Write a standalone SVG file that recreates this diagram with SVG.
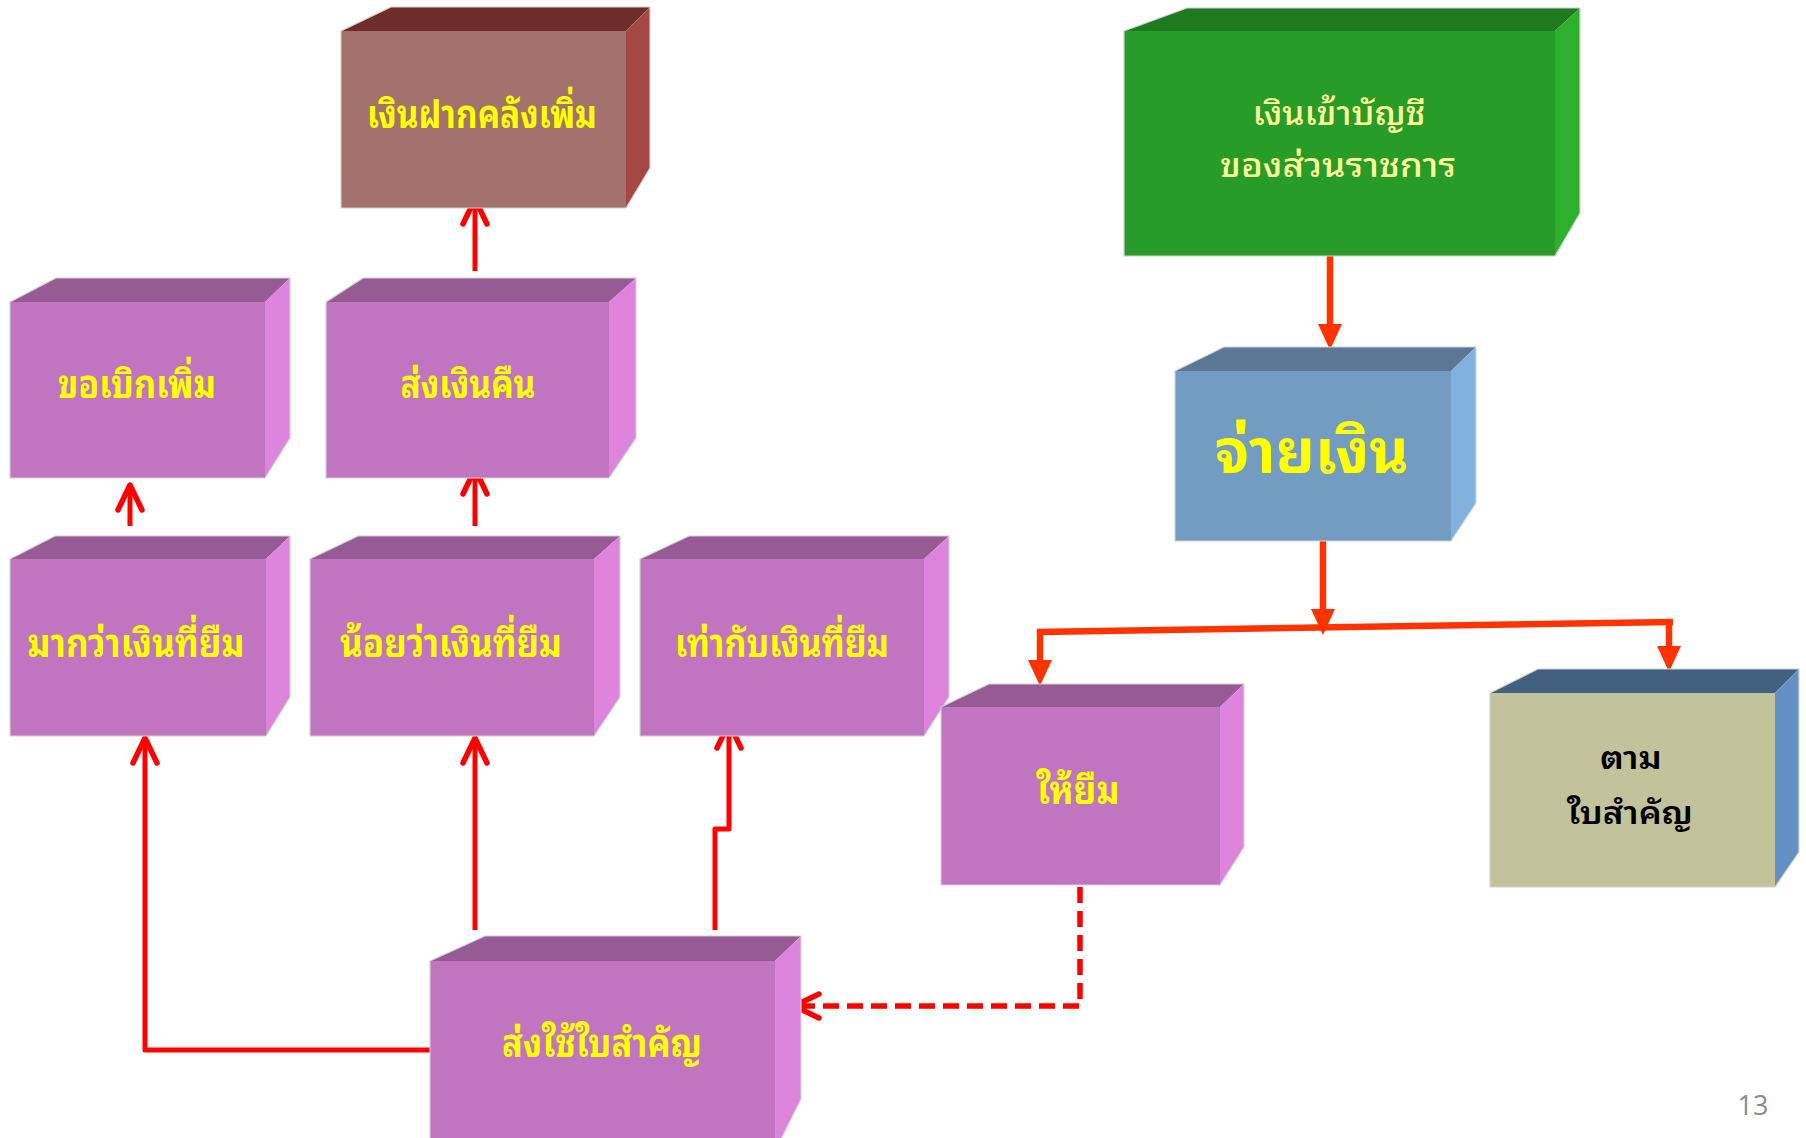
<svg xmlns="http://www.w3.org/2000/svg" width="1806" height="1138" viewBox="0 0 1806 1138">
  <style>
    .th { font-family: "Noto Sans Thai Looped", "Noto Serif Thai", "Garuda", "Loma", "Noto Sans Thai", "Noto Sans Thai UI", "Noto Sans", "DejaVu Sans", sans-serif; text-anchor: middle; font-weight: 700; }
    .yl { fill: #FFFF00; }
    .pale { fill: #FFFF99; font-weight: 500; }
    .dark { fill: #000000; font-weight: 600; }
    .edge { fill: none; stroke: #d2d2d2; stroke-width: 1.2; stroke-linejoin: round; }
    .purple .front { fill: #C175C0; }
    .purple .top { fill: #965A95; }
    .purple .side { fill: #DD84DD; }
    .brown .front { fill: #A4726D; }
    .brown .top { fill: #6E2C2B; }
    .brown .side { fill: #A44845; }
    .green .front { fill: #289C28; }
    .green .top { fill: #1F7A1F; }
    .green .side { fill: #2DB12D; }
    .blue .front { fill: #729CC2; }
    .blue .top { fill: #5A7896; }
    .blue .side { fill: #82B1DE; }
    .khaki .front { fill: #C2C29B; }
    .khaki .top { fill: #42607F; }
    .khaki .side { fill: #6390C4; }
    .red { fill: none; stroke: #FF0000; stroke-width: 5; stroke-linejoin: round; marker-end: url(#openHead); }
    .dash { stroke-dasharray: 16 8; stroke-width: 5.5; }
    .orange { fill: none; stroke: #FF3300; stroke-width: 6.5; stroke-linejoin: miter; }
    .pg { font-family: "Open Sans", "Liberation Sans", sans-serif; font-size: 27px; fill: #8C8C8C; text-anchor: middle; }
  </style>
  <defs>
    <!-- open chevron head, tip at the path end -->
    <marker id="openHead" markerUnits="userSpaceOnUse" viewBox="-30 -16 34 32" refX="0" refY="0" markerWidth="34" markerHeight="32" orient="auto" overflow="visible">
      <path d="M-25,-12 L0,0 L-25,12" fill="none" stroke="#FF0000" stroke-width="5.5" stroke-linecap="round" stroke-linejoin="round" stroke-dasharray="none"/>
    </marker>
    <!-- filled triangle head, base at the path end -->
    <marker id="solidHead" markerUnits="userSpaceOnUse" viewBox="-2 -13 28 26" refX="0" refY="0" markerWidth="28" markerHeight="26" orient="auto" overflow="visible">
      <path d="M-1,-12 L25,0 L-1,12 Z" fill="#FF3300"/>
    </marker>
  </defs>

  <!-- connectors -->
  <g id="connectors">
    <path class="red" d="M130,526 V485"/>
    <path class="red" d="M475,526 V469"/>
    <path class="red" d="M475,271 V199"/>
    <path class="red" d="M430,1050 H145 V738"/>
    <path class="red" d="M475,930 V738"/>
    <path class="red" d="M715,930 V829 H729 V723"/>
    <path class="red dash" d="M1080,887 V1006 H794"/>
    <path class="orange" d="M1330,256 V325" marker-end="url(#solidHead)"/>
    <path class="orange" d="M1323,541 V610" marker-end="url(#solidHead)"/>
    <path class="orange" d="M1673,622 L1040,632 V661" marker-end="url(#solidHead)"/>
    <path class="orange" d="M1669,622 V647" marker-end="url(#solidHead)"/>
  </g>

  <!-- เงินฝากคลังเพิ่ม -->
  <g id="deposit" class="brown">
    <rect class="front" x="341" y="31" width="285" height="177"/>
    <polygon class="top" points="341,31 391,7 650,7 626,31"/>
    <polygon class="side" points="626,31 650,7 650,168 626,208"/>
    <polygon class="edge" points="341,31 391,7 650,7 650,168 626,208 341,208"/>
    <text class="th yl" x="482" y="128" font-size="38" textLength="230" lengthAdjust="spacingAndGlyphs">เงินฝากคลังเพิ่ม</text>
  </g>

  <!-- เงินเข้าบัญชีของส่วนราชการ -->
  <g id="account" class="green">
    <rect class="front" x="1124" y="31" width="431" height="225"/>
    <polygon class="top" points="1124,31 1187,8 1580,8 1555,31"/>
    <polygon class="side" points="1555,31 1580,8 1580,213 1555,256"/>
    <polygon class="edge" points="1124,31 1187,8 1580,8 1580,213 1555,256 1124,256"/>
    <text class="th pale" x="1339" y="125" font-size="34" textLength="173" lengthAdjust="spacingAndGlyphs">เงินเข้าบัญชี</text>
    <text class="th pale" x="1338" y="177" font-size="34" textLength="236" lengthAdjust="spacingAndGlyphs">ของส่วนราชการ</text>
  </g>

  <!-- ขอเบิกเพิ่ม -->
  <g id="request-more" class="purple">
    <rect class="front" x="10" y="302" width="255" height="176"/>
    <polygon class="top" points="10,302 56,278 290,278 265,302"/>
    <polygon class="side" points="265,302 290,278 290,438 265,478"/>
    <polygon class="edge" points="10,302 56,278 290,278 290,438 265,478 10,478"/>
    <text class="th yl" x="137" y="398" font-size="38" textLength="158" lengthAdjust="spacingAndGlyphs">ขอเบิกเพิ่ม</text>
  </g>

  <!-- ส่งเงินคืน -->
  <g id="return-cash" class="purple">
    <rect class="front" x="326" y="302" width="283" height="176"/>
    <polygon class="top" points="326,302 363,278 636,278 609,302"/>
    <polygon class="side" points="609,302 636,278 636,438 609,478"/>
    <polygon class="edge" points="326,302 363,278 636,278 636,438 609,478 326,478"/>
    <text class="th yl" x="468" y="398" font-size="38" textLength="135" lengthAdjust="spacingAndGlyphs">ส่งเงินคืน</text>
  </g>

  <!-- จ่ายเงิน -->
  <g id="pay" class="blue">
    <rect class="front" x="1175" y="371" width="276" height="170"/>
    <polygon class="top" points="1175,371 1224,347 1476,347 1451,371"/>
    <polygon class="side" points="1451,371 1476,347 1476,503 1451,541"/>
    <polygon class="edge" points="1175,371 1224,347 1476,347 1476,503 1451,541 1175,541"/>
    <text class="th yl" x="1312" y="473" font-size="60" textLength="194" lengthAdjust="spacingAndGlyphs">จ่ายเงิน</text>
  </g>

  <!-- มากว่าเงินที่ยืม -->
  <g id="more-than" class="purple">
    <rect class="front" x="10" y="559" width="256" height="177"/>
    <polygon class="top" points="10,559 55,536 290,536 266,559"/>
    <polygon class="side" points="266,559 290,536 290,697 266,736"/>
    <polygon class="edge" points="10,559 55,536 290,536 290,697 266,736 10,736"/>
    <text class="th yl" x="136" y="657" font-size="38" textLength="217" lengthAdjust="spacingAndGlyphs">มากว่าเงินที่ยืม</text>
  </g>

  <!-- น้อยว่าเงินที่ยืม -->
  <g id="less-than" class="purple">
    <rect class="front" x="310" y="559" width="284" height="177"/>
    <polygon class="top" points="310,559 358,536 620,536 594,559"/>
    <polygon class="side" points="594,559 620,536 620,697 594,736"/>
    <polygon class="edge" points="310,559 358,536 620,536 620,697 594,736 310,736"/>
    <text class="th yl" x="451" y="657" font-size="38" textLength="222" lengthAdjust="spacingAndGlyphs">น้อยว่าเงินที่ยืม</text>
  </g>

  <!-- เท่ากับเงินที่ยืม -->
  <g id="equal" class="purple">
    <rect class="front" x="640" y="559" width="284" height="177"/>
    <polygon class="top" points="640,559 689,536 949,536 924,559"/>
    <polygon class="side" points="924,559 949,536 949,697 924,736"/>
    <polygon class="edge" points="640,559 689,536 949,536 949,697 924,736 640,736"/>
    <text class="th yl" x="782" y="657" font-size="38" textLength="214" lengthAdjust="spacingAndGlyphs">เท่ากับเงินที่ยืม</text>
  </g>

  <!-- ให้ยืม -->
  <g id="lend" class="purple">
    <rect class="front" x="941" y="707" width="279" height="178"/>
    <polygon class="top" points="941,707 989,684 1244,684 1220,707"/>
    <polygon class="side" points="1220,707 1244,684 1244,847 1220,885"/>
    <polygon class="edge" points="941,707 989,684 1244,684 1244,847 1220,885 941,885"/>
    <text class="th yl" x="1078" y="804" font-size="38" textLength="83" lengthAdjust="spacingAndGlyphs">ให้ยืม</text>
  </g>

  <!-- ตาม ใบสำคัญ -->
  <g id="by-voucher" class="khaki">
    <rect class="front" x="1490" y="693" width="285" height="194"/>
    <polygon class="top" points="1490,693 1538,669 1799,669 1775,693"/>
    <polygon class="side" points="1775,693 1799,669 1799,852 1775,887"/>
    <polygon class="edge" points="1490,693 1538,669 1799,669 1799,852 1775,887 1490,887"/>
    <text class="th dark" x="1631" y="769" font-size="31" textLength="62" lengthAdjust="spacingAndGlyphs">ตาม</text>
    <text class="th dark" x="1630" y="824" font-size="31" textLength="126" lengthAdjust="spacingAndGlyphs">ใบสำคัญ</text>
  </g>

  <!-- ส่งใช้ใบสำคัญ -->
  <g id="submit-voucher" class="purple">
    <rect class="front" x="430" y="961" width="345" height="190"/>
    <polygon class="top" points="430,961 485,936 801,936 775,961"/>
    <polygon class="side" points="775,961 801,936 801,1099 775,1151"/>
    <polygon class="edge" points="430,1151 430,961 485,936 801,936 801,1099 775,1151"/>
    <text class="th yl" x="602" y="1057" font-size="38" textLength="200" lengthAdjust="spacingAndGlyphs">ส่งใช้ใบสำคัญ</text>
  </g>

  <text class="pg" x="1753" y="1115">13</text>
</svg>
